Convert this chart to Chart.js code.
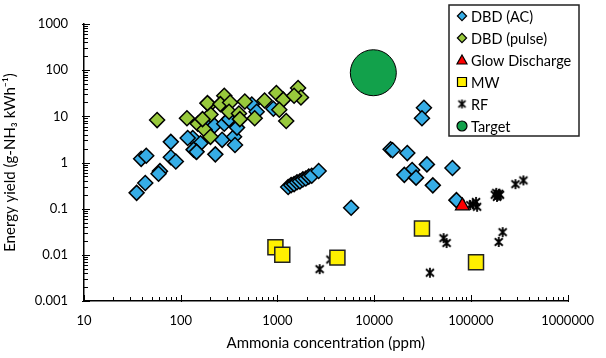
<!DOCTYPE html>
<html>
<head>
<meta charset="utf-8">
<script src="https://cdn.jsdelivr.net/npm/chart.js@4.4.0/dist/chart.umd.min.js"></script>
<style>
  html, body { margin: 0; padding: 0; background: #fff; }
  #wrap { width: 606px; height: 358px; }
</style>
</head>
<body>
<div id="wrap"><canvas id="chart" width="606" height="358"></canvas></div>
<script>
// values (log-log)
const dbdAcX = [35, 43, 61, 59, 39, 44, 79, 79, 89, 133, 160, 143, 136, 146, 118, 204, 223, 282, 316, 268, 356, 364, 228, 382, 543, 610, 908,
  1291, 1385, 1486, 1593, 1709, 1833, 1966, 2109, 2262, 2666, 5780,
  32700, 31200, 14800, 15500, 22000, 35100, 24700, 20500, 27100, 40400, 64500, 70900];
const dbdAcY = [0.22, 0.36, 0.65, 0.57, 1.2, 1.4, 2.8, 1.3, 1.05, 3.4, 2.6, 1.76, 1.9, 1.7, 3.4, 6.9, 6.3, 6.9, 8.7, 3.1, 3.6, 2.4, 1.5, 5.7, 18, 12.6, 14.6,
  0.294, 0.324, 0.34, 0.373, 0.391, 0.43, 0.45, 0.494, 0.518, 0.655, 0.105,
  15.3, 9.1, 1.93, 1.84, 1.6, 0.91, 0.69, 0.54, 0.47, 0.32, 0.76, 0.153];

const dbdPulseX = [57, 116, 150, 176, 198, 203, 189, 282, 257, 324, 316, 400, 460, 409, 582, 736, 975, 1148, 1045, 1232, 1634, 1750, 1486, 203, 168];
const dbdPulseY = [8.3, 9.1, 6.9, 5.2, 17.6, 11, 19.3, 28, 18.4, 20, 12.6, 11.5, 21, 8.7, 9.1, 22, 32, 23, 13.9, 7.9, 41, 25.6, 28, 3.6, 8.7];

const glowX = [81600];
const glowY = [0.115];

const mwX = [953, 1122, 4170, 31200, 113000];
const mwY = [0.0146, 0.010, 0.0087, 0.037, 0.0069];

const rfX = [98500, 105000, 113000, 116000, 177000, 183000, 190000, 195000, 186000, 200000, 289000, 349000,
  2730, 3530, 52200, 56100, 37700, 213000, 194000];
const rfY = [0.12, 0.125, 0.14, 0.11, 0.20, 0.22, 0.19, 0.21, 0.18, 0.20, 0.34, 0.41,
  0.0049, 0.0079, 0.023, 0.018, 0.0041, 0.031, 0.019];

const targetX = [9800];
const targetY = [88];

const xDecades = [10, 100, 1000, 10000, 100000];
const yDecades = [0.001, 0.01, 0.1, 1, 10, 100];
const minorSteps = [1, 2, 3, 4, 5, 6, 7, 8, 9];
const xTickLabels = ["10", "100", "1000", "10000", "100000", "1000000"];
const yTickLabels = ["0.001", "0.01", "0.1", "1", "10", "100", "1000"];

const FONT = "Lato, 'Open Sans', sans-serif";

function pts(xs, ys) {
  return xs.map((x, i) => ({ x: x, y: ys[i] }));
}

function buildTicks(decades, top) {
  const out = [];
  decades.forEach((d) => minorSteps.forEach((s) => out.push(+(d * s).toPrecision(6))));
  out.push(top);
  return out;
}

function isPow10(v) {
  const l = Math.log10(v);
  return Math.abs(l - Math.round(l)) < 1e-9;
}

function makeStar(size, lw) {
  const c = document.createElement("canvas");
  c.width = size;
  c.height = size;
  const g = c.getContext("2d");
  g.strokeStyle = "#000";
  g.lineWidth = lw;
  const m = size / 2;
  const r = size / 2 - 1;
  g.beginPath();
  g.moveTo(m - r * 0.8, m - r * 0.75);
  g.lineTo(m + r * 0.8, m + r * 0.75);
  g.moveTo(m + r * 0.8, m - r * 0.75);
  g.lineTo(m - r * 0.8, m + r * 0.75);
  g.moveTo(m, m - r);
  g.lineTo(m, m + r);
  g.stroke();
  return c;
}
const starImg = makeStar(12, 1.8);
const starSmall = makeStar(11, 1.6);

const BLUE = "#36ADE6";
const GREEN = "#98C93C";
const RED = "#FF0000";
const YELLOW = "#FFF000";
const TARGET = "#12A14B";

// ticks drawn inward like the original
const innerTicks = {
  id: "innerTicks",
  beforeDatasetsDraw(chart) {
    const ctx = chart.ctx;
    const xs = chart.scales.x;
    const ys = chart.scales.y;
    ctx.save();
    ctx.strokeStyle = "#000";
    ctx.lineWidth = 1;
    ctx.beginPath();
    xs.ticks.forEach((t) => {
      const px = Math.round(xs.getPixelForValue(t.value)) + 0.5;
      const major = isPow10(t.value);
      ctx.moveTo(px, xs.top + (major ? 1 : 0));
      ctx.lineTo(px, xs.top - (major ? 6 : 4));
    });
    ys.ticks.forEach((t) => {
      const py = Math.round(ys.getPixelForValue(t.value)) + 0.5;
      const major = isPow10(t.value);
      ctx.moveTo(ys.right - (major ? 2 : 0), py);
      ctx.lineTo(ys.right + (major ? 6 : 4), py);
    });
    ctx.stroke();
    ctx.restore();
  },
};

function drawMarker(ctx, kind, x, y) {
  ctx.save();
  ctx.lineWidth = 1.2;
  ctx.strokeStyle = "#000";
  ctx.beginPath();
  if (kind === "diamondBlue" || kind === "diamondGreen") {
    const r = 4.6;
    ctx.fillStyle = kind === "diamondBlue" ? BLUE : GREEN;
    ctx.moveTo(x - r, y);
    ctx.lineTo(x, y - r);
    ctx.lineTo(x + r, y);
    ctx.lineTo(x, y + r);
    ctx.closePath();
    ctx.fill();
    ctx.stroke();
  } else if (kind === "triangle") {
    ctx.fillStyle = RED;
    ctx.moveTo(x, y - 5);
    ctx.lineTo(x + 5, y + 4);
    ctx.lineTo(x - 5, y + 4);
    ctx.closePath();
    ctx.fill();
    ctx.stroke();
  } else if (kind === "square") {
    ctx.fillStyle = YELLOW;
    ctx.rect(x - 4.5, y - 4.5, 9, 9);
    ctx.fill();
    ctx.stroke();
  } else if (kind === "star") {
    ctx.drawImage(starSmall, x - 5.5, y - 5.5);
  } else if (kind === "circle") {
    ctx.fillStyle = TARGET;
    ctx.arc(x, y, 5, 0, Math.PI * 2);
    ctx.fill();
    ctx.stroke();
  }
  ctx.restore();
}

const boxLegend = {
  id: "boxLegend",
  afterDraw(chart) {
    const ctx = chart.ctx;
    const items = chart.data.datasets.map((d) => ({ label: d.label, kind: d.legendKind }));
    const left = 449, top = 5, w = 130, h = 131;
    ctx.save();
    ctx.fillStyle = "#fff";
    ctx.fillRect(left, top, w, h);
    ctx.strokeStyle = "#222";
    ctx.lineWidth = 1.5;
    ctx.strokeRect(left, top, w, h);
    ctx.font = "14.5px " + FONT;
    ctx.fillStyle = "#000";
    ctx.textBaseline = "middle";
    items.forEach((it, i) => {
      const cy = top + 11 + i * 22;
      drawMarker(ctx, it.kind, left + 13, cy);
      ctx.fillText(it.label, left + 22, cy + 1);
    });
    ctx.restore();
  },
};

const datasets = [
  {
    label: "DBD (AC)",
    legendKind: "diamondBlue",
    data: pts(dbdAcX, dbdAcY),
    pointStyle: "rectRot",
    pointRadius: 7.5,
    backgroundColor: BLUE,
    borderColor: "#000",
    borderWidth: 1.5,
    order: 2,
  },
  {
    label: "DBD (pulse)",
    legendKind: "diamondGreen",
    data: pts(dbdPulseX, dbdPulseY),
    pointStyle: "rectRot",
    pointRadius: 7.5,
    backgroundColor: GREEN,
    borderColor: "#000",
    borderWidth: 1.5,
    order: 1,
  },
  {
    label: "Glow Discharge",
    legendKind: "triangle",
    data: pts(glowX, glowY),
    pointStyle: "triangle",
    pointRadius: 8,
    backgroundColor: RED,
    borderColor: "#000",
    borderWidth: 1.2,
    order: 0,
  },
  {
    label: "MW",
    legendKind: "square",
    data: pts(mwX, mwY),
    pointStyle: "rect",
    pointRadius: 10.6,
    backgroundColor: YELLOW,
    borderColor: "#222",
    borderWidth: 1.5,
    order: 0,
  },
  {
    label: "RF",
    legendKind: "star",
    data: pts(rfX, rfY),
    pointStyle: starImg,
    pointRadius: 6,
    backgroundColor: "#000",
    borderColor: "#000",
    order: 0,
  },
  {
    label: "Target",
    legendKind: "circle",
    data: pts(targetX, targetY),
    pointStyle: "circle",
    pointRadius: 23,
    backgroundColor: TARGET,
    borderColor: "#000",
    borderWidth: 1,
    order: 0,
  },
];

new Chart(document.getElementById("chart"), {
  type: "scatter",
  data: { datasets: datasets },
  options: {
    responsive: false,
    animation: false,
    clip: false,
    layout: { padding: { top: 7, right: 30, left: 0, bottom: 0 } },
    elements: { point: { hoverRadius: 0 } },
    plugins: {
      legend: { display: false },
      tooltip: { enabled: false },
    },
    scales: {
      x: {
        type: "logarithmic",
        min: 10,
        max: 1000000,
        afterBuildTicks: (s) => {
          s.ticks = buildTicks(xDecades, 1000000).map((v) => ({ value: v }));
        },
        afterFit: (s) => {
          s.height = 57;
        },
        grid: { drawOnChartArea: false, drawTicks: false },
        border: { display: true, color: "#000", width: 1.5 },
        ticks: {
          autoSkip: false,
          maxRotation: 0,
          padding: 12,
          color: "#000",
          font: { family: FONT, size: 13 },
          callback: (v) => (isPow10(v) ? xTickLabels[Math.round(Math.log10(v)) - 1] : ""),
        },
        title: {
          display: true,
          text: "Ammonia concentration (ppm)",
          color: "#000",
          font: { family: FONT, size: 15 },
          padding: { top: 0, bottom: 6 },
        },
      },
      y: {
        type: "logarithmic",
        min: 0.001,
        max: 1000,
        afterBuildTicks: (s) => {
          s.ticks = buildTicks(yDecades, 1000).map((v) => ({ value: v }));
        },
        afterFit: (s) => {
          s.width = 84;
        },
        grid: { drawOnChartArea: false, drawTicks: false },
        border: { display: true, color: "#000", width: 1.5 },
        ticks: {
          autoSkip: false,
          padding: 16,
          color: "#000",
          font: { family: FONT, size: 13 },
          callback: (v) => (isPow10(v) ? yTickLabels[Math.round(Math.log10(v)) + 3] : ""),
        },
        title: {
          display: true,
          text: "Energy yield (g-NH\u2083 kWh\u207B\u00B9)",
          color: "#000",
          font: { family: FONT, size: 15 },
          padding: { top: 1, bottom: 0 },
        },
      },
    },
  },
  plugins: [innerTicks, boxLegend],
});
</script>
</body>
</html>
